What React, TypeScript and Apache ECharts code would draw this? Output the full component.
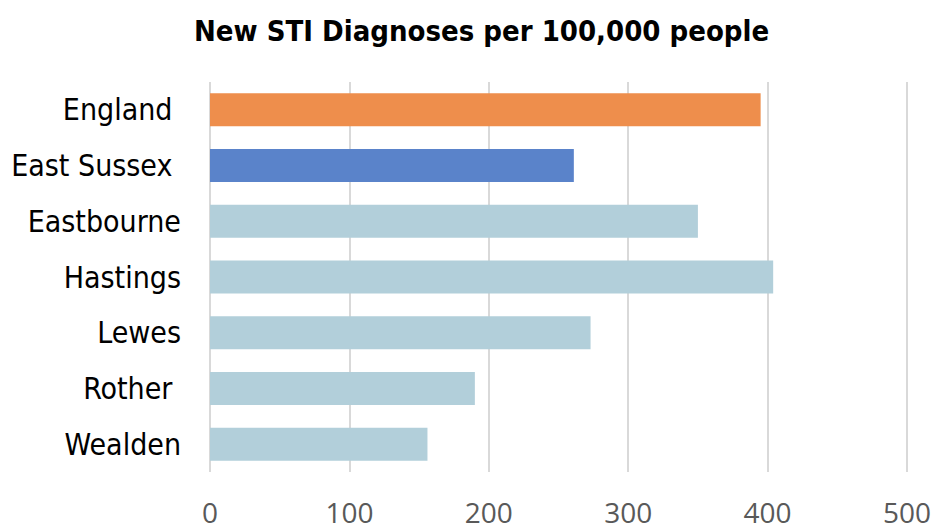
import React, { useEffect, useRef } from "react";
import * as echarts from "echarts";

const categories = ["England ", "East Sussex ", "Eastbourne", "Hastings", "Lewes", "Rother ", "Wealden"];
const values = [395, 261, 350, 404, 273, 190, 156];
const barColors = ["#EE8E4C", "#5A83CA", "#B2CFDA", "#B2CFDA", "#B2CFDA", "#B2CFDA", "#B2CFDA"];
const xTicks = [0, 100, 200, 300, 400, 500];

export default function App() {
  const ref = useRef<HTMLDivElement>(null);
  useEffect(() => {
    if (!ref.current) return;
    const chart = echarts.init(ref.current, undefined, { renderer: "svg" });
    const font = "'DejaVu Sans Condensed', 'DejaVu Sans', sans-serif";
    chart.setOption({
      animation: false,
      backgroundColor: "#ffffff",
      title: {
        text: "New STI Diagnoses per 100,000 people",
        left: 189,
        top: 11,
        textStyle: { fontFamily: font, fontWeight: "bold", fontSize: 29, color: "#000000" },
      },
      grid: { left: 210, right: 29, top: 82, bottom: 51, containLabel: false },
      xAxis: {
        type: "value",
        min: xTicks[0],
        max: xTicks[xTicks.length - 1],
        interval: 100,
        axisLine: { show: false },
        axisTick: { show: false },
        splitLine: { show: true, lineStyle: { color: "#D9D9D9", width: 2 } },
        axisLabel: { color: "#595959", fontSize: 28, fontFamily: "'Open Sans', sans-serif", margin: 26 },
      },
      yAxis: {
        type: "category",
        inverse: true,
        data: categories,
        axisLine: { show: false },
        axisTick: { show: false },
        axisLabel: { color: "#000000", fontSize: 30, fontFamily: font, margin: 29 },
      },
      series: [
        {
          type: "bar",
          barWidth: 33,
          data: values.map((v, i) => ({ value: v, itemStyle: { color: barColors[i] } })),
        },
      ],
    });
    return () => chart.dispose();
  }, []);
  return <div ref={ref} style={{ position: "fixed", left: 0, top: 0, width: 936, height: 526 }} />;
}
